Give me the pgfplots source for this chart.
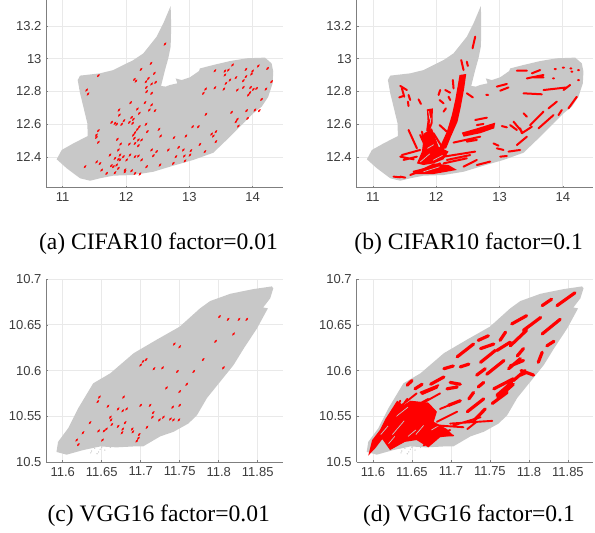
\documentclass[border=0pt]{standalone}
\usepackage{pgfplots}
\pgfplotsset{compat=1.18}
\usepackage{fontspec}
\setmainfont{Liberation Sans}
\newfontfamily\capfont{Liberation Serif}
\definecolor{lossgray}{HTML}{C8C8C8}
\definecolor{gridc}{HTML}{E9E9E9}
\definecolor{axc}{HTML}{7F7F7F}
\definecolor{labc}{HTML}{3C3C3C}
\pgfplotsset{
  panel/.style={
    scale only axis, anchor=south west,
    axis x line=bottom, axis y line=left,
    axis line style={-,axc,line width=0.9pt},
    grid=major, grid style={gridc,line width=0.8pt},
    tick align=inside, major tick length=2pt,
    tick style={axc,line width=0.6pt},
    tick label style={font=\fontsize{13}{13}\selectfont,text=labc},
    xticklabel style={yshift=-1.5pt},
    yticklabel style={xshift=-1.5pt},
    clip=true, unbounded coords=jump,
  },
  pcifar/.style={panel,width=236.5pt,height=187.7pt,
    xmin=10.744,xmax=14.48,ymin=12.2125,ymax=13.359,
    xtick={11,12,13,14},xticklabels={11,12,13,14},
    ytick={12.4,12.6,12.8,13,13.2},yticklabels={12.4,12.6,12.8,13,13.2}},
  pvgg/.style={panel,width=236.5pt,height=182.9pt,
    xmin=11.5792,xmax=11.8824,ymin=10.5,ymax=10.7,
    xtick={11.6,11.65,11.7,11.75,11.8,11.85},xticklabels={11.6,11.65,11.7,11.75,11.8,11.85},
    ytick={10.5,10.55,10.6,10.65,10.7},yticklabels={10.5,10.55,10.6,10.65,10.7}},
  region/.style={draw=none,fill=lossgray},
  smallmark/.style={red,only marks,mark=*,mark size=0.8pt,
    mark options={draw=red,fill=red,line width=0.2pt,rotate=50,xscale=2.2}},
  streak/.style={red,line width=#1,line cap=round},
  hole/.style={lossgray,line width=0.7pt},
  blob/.style={draw=none,fill=red},
  faint/.style={lossgray,only marks,mark=*,mark size=0.5pt,mark options={draw=lossgray,fill=lossgray,line width=0.1pt}},
}
\pgfplotstableread{
x y
12.705 13.322
12.711 13.237
12.711 13.155
12.705 13.074
12.668 13.003
12.616 12.931
12.553 12.834
12.626 12.83
12.695 12.84
12.811 12.85
12.784 12.88
12.879 12.87
13.011 12.887
13.153 12.925
13.168 12.941
13.379 12.962
13.642 12.986
13.905 13.003
14.195 13.007
14.3 12.972
14.326 12.921
14.316 12.85
14.247 12.768
14.142 12.707
14.011 12.667
13.8 12.585
13.589 12.504
13.379 12.426
13.063 12.382
12.747 12.347
12.432 12.31
12.116 12.29
11.8 12.286
11.589 12.27
11.432 12.255
11.274 12.27
11.063 12.331
10.905 12.386
10.984 12.443
11.168 12.483
11.395 12.528
11.389 12.606
11.326 12.707
11.274 12.789
11.237 12.87
11.274 12.897
11.589 12.911
11.8 12.931
12.116 12.992
12.274 13.033
12.484 13.135
12.589 13.216
}\cifarregion
\pgfplotstableread{
x y
11.868 10.692
11.87 10.69
11.866 10.679
11.857 10.669
11.863 10.668
11.849 10.646
11.832 10.624
11.819 10.606
11.802 10.588
11.785 10.57
11.772 10.551
11.761 10.542
11.742 10.533
11.725 10.528
11.703 10.517
11.691 10.517
11.669 10.516
11.648 10.517
11.626 10.513
11.605 10.508
11.592 10.511
11.594 10.522
11.607 10.537
11.62 10.559
11.639 10.586
11.661 10.597
11.691 10.619
11.721 10.634
11.75 10.648
11.776 10.668
11.789 10.676
11.815 10.684
11.844 10.689
}\vggregion
\pgfplotstableread{
x y
11.637 10.512
11.641 10.515
11.646 10.511
11.65 10.516
11.656 10.517
11.661 10.516
11.644 10.509
11.648 10.514
11.636 10.51
11.654 10.513
}\vggfaint
\begin{document}
\begin{tikzpicture}[x=1pt,y=1pt]
\path[use as bounding box] (0,0) rectangle (595,533);
% (a)
\begin{axis}[pcifar,at={(46.5pt,345.3pt)}]
\addplot[region] table {\cifarregion} -- cycle;
\addplot[smallmark] coordinates {
(12.616,13.09)(12.395,12.972)(12.237,12.935)(12.447,12.911)(11.563,12.897)(12.132,12.874)(12.158,12.864)(12.353,12.88)(12.468,12.856)(12.405,12.846)(12.316,12.86)(12.321,12.825)(12.326,12.799)(12.405,12.789)(11.379,12.809)(11.4,12.785)(12.074,12.732)(12.3,12.732)(12.405,12.718)(12.368,12.687)(12.458,12.683)(12.179,12.693)(11.889,12.687)(11.895,12.656)(12.21,12.667)(12.089,12.642)(12.116,12.63)(11.968,12.622)(11.774,12.612)(11.826,12.606)(11.853,12.6)(11.932,12.6)(12.053,12.612)(12.105,12.606)(12.316,12.6)(12.21,12.585)(12.179,12.569)(12.142,12.549)(12.116,12.534)(12.132,12.514)(12.337,12.555)(12.521,12.569)(11.563,12.561)(11.532,12.534)(11.532,12.52)(11.563,12.49)(11.863,12.508)(11.916,12.479)(12.195,12.504)(12.247,12.504)(12.142,12.483)(12.195,12.469)(12.053,12.479)(12.547,12.528)(12.758,12.518)(12.947,12.528)(13.053,12.585)(13.142,12.585)(13.263,12.661)(13.668,12.673)(13.758,12.63)(13.737,12.616)(13.774,12.589)(13.921,12.636)(13.905,12.683)(14.037,12.687)(14.105,12.683)(14.142,12.752)(14.211,12.815)(14.3,12.86)(14.237,12.941)(14.089,12.956)(14,12.925)(13.984,12.907)(13.895,12.935)(13.895,12.891)(13.853,12.866)(13.684,12.962)(13.616,12.931)(13.563,12.925)(13.563,12.901)(13.405,12.927)(13.642,12.87)(13.579,12.85)(13.737,12.885)(13.758,12.809)(13.547,12.815)(13.405,12.823)(13.258,12.815)(13.221,12.789)(13.853,12.825)(13.968,12.825)(14.011,12.813)(14.063,12.819)(13.932,12.779)(13.958,12.793)(13.421,12.555)(13.353,12.54)(13.379,12.528)(13.421,12.494)(13.168,12.477)(13.247,12.433)(13.026,12.439)(12.905,12.443)(12.832,12.459)(13.011,12.412)(12.921,12.406)(12.789,12.402)(12.668,12.443)(12.484,12.433)(12.432,12.408)(12.405,12.443)(12.747,12.361)(12.932,12.376)(12.537,12.351)(12.326,12.341)(12.247,12.382)(12.142,12.402)(12.063,12.412)(12.011,12.382)(11.905,12.412)(11.879,12.443)(11.747,12.412)(11.826,12.392)(11.905,12.382)(11.853,12.351)(11.8,12.341)(11.879,12.331)(11.984,12.321)(11.826,12.304)(11.695,12.3)(11.616,12.32)(11.537,12.37)(11.589,12.36)(11.353,12.341)(12.142,12.3)(12.221,12.296)(11.984,12.31)(12.089,12.316)(11.958,12.402)(11.879,12.386)(12.195,12.406)(11.768,12.347)
};
\end{axis}
% (b)
\begin{axis}[pcifar,at={(356.7pt,345.3pt)}]
\addplot[region] table {\cifarregion} -- cycle;
\addplot[blob] coordinates {(12.037,12.443)(12.168,12.555)(12.247,12.656)(12.3,12.748)(12.342,12.84)(12.368,12.901)(12.474,12.907)(12.442,12.819)(12.389,12.707)(12.337,12.616)(12.232,12.524)(12.158,12.453)} -- cycle;
\addplot[blob] coordinates {(11.695,12.361)(11.774,12.433)(11.811,12.545)(11.932,12.575)(12.037,12.463)(12.195,12.433)(12.116,12.386)(11.958,12.361)(11.8,12.351)} -- cycle;
\addplot[blob] coordinates {(11.616,12.296)(11.958,12.361)(12.195,12.351)(12.326,12.321)(11.958,12.296)} -- cycle;
\addplot[blob] coordinates {(11.853,12.691)(11.947,12.697)(11.942,12.606)(11.895,12.555)(11.842,12.561)(11.863,12.622)} -- cycle;
\addplot[blob] coordinates {(12.405,12.549)(12.642,12.575)(12.932,12.61)(12.916,12.575)(12.695,12.545)(12.432,12.524)} -- cycle;
\addplot[hole] coordinates {(11.88,12.68)(11.9,12.63)(nan,nan)(11.9,12.6)(11.92,12.64)(nan,nan)(11.75,12.37)(11.9,12.42)(nan,nan)(11.85,12.45)(11.98,12.48)(nan,nan)(11.8,12.31)(12.05,12.34)(nan,nan)(11.95,12.38)(12.1,12.41)};
\addplot[streak=2pt] coordinates {
(12.616,13.135)(12.574,13.064)(nan,nan)(12.395,12.992)(12.432,12.931)(nan,nan)(12.484,12.982)(12.5,12.956)(nan,nan)(12.263,12.87)(12.274,12.819)(nan,nan)(11.432,12.834)(11.537,12.809)(nan,nan)(11.416,12.764)(11.484,12.773)(nan,nan)(11.563,12.779)(11.589,12.748)(nan,nan)(11.553,12.738)(11.563,12.711)(nan,nan)(11.721,12.752)(11.758,12.724)(nan,nan)(11.458,12.819)(11.495,12.768)(nan,nan)(12.063,12.809)(12.037,12.779)(nan,nan)(12.142,12.809)(12.221,12.793)(nan,nan)(12.053,12.748)(12.116,12.728)(nan,nan)(12.195,12.768)(12.221,12.748)(nan,nan)(12.116,12.677)(12.153,12.697)(nan,nan)(12.484,12.789)(12.579,12.764)(nan,nan)(12.79,12.779)(12.82,12.779)(nan,nan)
(11.774,12.555)(11.826,12.483)(nan,nan)(11.563,12.565)(11.695,12.453)(nan,nan)(11.747,12.534)(11.879,12.422)(nan,nan)(11.458,12.412)(11.747,12.443)(nan,nan)(11.484,12.382)(11.695,12.402)(nan,nan)(11.432,12.402)(11.642,12.386)(nan,nan)
(11.879,12.545)(12.011,12.453)(nan,nan)(11.958,12.545)(12.089,12.463)(nan,nan)(12.053,12.595)(12.168,12.555)(nan,nan)(11.642,12.31)(11.958,12.341)(nan,nan)
(12.116,12.402)(12.616,12.433)(nan,nan)(12.168,12.382)(12.537,12.412)(nan,nan)(12.116,12.361)(12.484,12.392)(nan,nan)(11.589,12.29)(12.063,12.361)(nan,nan)(12.432,12.341)(12.642,12.382)(nan,nan)(12.642,12.351)(12.853,12.372)(nan,nan)(11.326,12.28)(11.432,12.276)(nan,nan)(11.432,12.28)(11.511,12.274)(nan,nan)
(12.274,12.488)(12.695,12.524)(nan,nan)(12.484,12.494)(12.642,12.504)(nan,nan)(12.616,12.626)(12.8,12.64)(nan,nan)(12.642,12.595)(12.747,12.602)(nan,nan)(12.905,12.483)(12.984,12.469)(nan,nan)(12.958,12.453)(13.063,12.443)(nan,nan)(13.011,12.402)(13.116,12.406)(nan,nan)(13.142,12.433)(13.326,12.443)(nan,nan)(13.274,12.473)(13.432,12.524)(nan,nan)(13.037,12.589)(13.116,12.581)(nan,nan)(13.168,12.595)(13.274,12.565)(nan,nan)(13.326,12.575)(13.353,12.545)(nan,nan)(13.221,12.616)(13.353,12.555)(nan,nan)(13.379,12.667)(13.432,12.646)(nan,nan)(13.353,12.545)(13.511,12.585)(nan,nan)(13.484,12.595)(13.695,12.677)(nan,nan)(13.616,12.575)(13.853,12.656)(nan,nan)(13.774,12.697)(13.905,12.738)(nan,nan)(13.932,12.656)(13.984,12.687)(nan,nan)(14.089,12.697)(14.221,12.768)(nan,nan)
(12.958,12.83)(13.116,12.846)(nan,nan)(13.011,12.805)(13.142,12.825)(nan,nan)(13.379,12.789)(13.668,12.783)(nan,nan)(13.695,12.809)(14.063,12.825)(nan,nan)(14.011,12.809)(14.116,12.84)(nan,nan)(13.274,12.927)(13.432,12.927)(nan,nan)(13.432,12.88)(13.695,12.901)(nan,nan)(13.511,12.911)(13.642,12.931)(nan,nan)(13.537,12.887)(13.695,12.887)(nan,nan)(13.87,12.937)(13.89,12.937)(nan,nan)(14.0,12.946)(14.02,12.946)(nan,nan)(14.12,12.941)(14.135,12.941)(nan,nan)(14.135,12.921)(14.15,12.921)(nan,nan)(14.24,12.931)(14.255,12.931)(nan,nan)(13.845,12.88)(13.86,12.88)(nan,nan)(14.24,12.87)(14.255,12.87)
};
\end{axis}
% (c)
\begin{axis}[pvgg,at={(46.5pt,71pt)}]
\addplot[region] table {\vggregion} -- cycle;
\addplot[faint] table {\vggfaint};
\addplot[smallmark] coordinates {
(11.801,10.659)(11.812,10.656)(11.826,10.656)(11.836,10.656)(11.819,10.64)(11.796,10.632)(11.743,10.629)(11.75,10.626)(11.78,10.612)(11.707,10.612)(11.703,10.61)(11.7,10.606)(11.717,10.602)(11.728,10.603)(11.747,10.599)(11.768,10.599)(11.806,10.603)(11.759,10.585)(11.75,10.577)(11.733,10.581)(11.678,10.571)(11.647,10.571)(11.645,10.566)(11.658,10.561)(11.671,10.558)(11.677,10.556)(11.682,10.558)(11.7,10.562)(11.712,10.562)(11.741,10.56)(11.75,10.562)(11.716,10.554)(11.715,10.549)(11.729,10.549)(11.724,10.546)(11.738,10.547)(11.742,10.546)(11.749,10.546)(11.661,10.549)(11.662,10.546)(11.663,10.541)(11.635,10.543)(11.68,10.543)(11.671,10.539)(11.677,10.536)(11.708,10.538)(11.689,10.536)(11.69,10.533)(11.646,10.534)(11.653,10.534)(11.656,10.536)(11.626,10.532)(11.676,10.532)(11.698,10.53)(11.697,10.526)(11.695,10.523)(11.651,10.524)(11.618,10.524)(11.62,10.519)
};
\end{axis}
% (d)
\begin{axis}[pvgg,at={(356.7pt,71pt)}]
\addplot[region] table {\vggregion} -- cycle;
\addplot[faint] table {\vggfaint};
\addplot[blob] coordinates {(11.594,10.507)(11.599,10.524)(11.609,10.535)(11.616,10.547)(11.631,10.567)(11.639,10.562)(11.648,10.567)(11.671,10.565)(11.682,10.555)(11.678,10.544)(11.695,10.536)(11.703,10.529)(11.686,10.527)(11.671,10.516)(11.656,10.524)(11.641,10.522)(11.622,10.513)(11.612,10.525)(11.603,10.515)} -- cycle;
\addplot[hole] coordinates {(11.61,10.53)(11.62,10.54)(nan,nan)(11.625,10.53)(11.64,10.545)(nan,nan)(11.63,10.55)(11.645,10.56)(nan,nan)(11.655,10.53)(11.665,10.54)(nan,nan)(11.675,10.535)(11.685,10.54)(nan,nan)(11.645,10.528)(11.655,10.535)(nan,nan)(11.62,10.52)(11.628,10.528)};
\addplot[streak=1.9pt] coordinates {
(11.62,10.54)(11.635,10.567)(nan,nan)(11.629,10.551)(11.644,10.569)(nan,nan)(11.631,10.558)(11.656,10.575)(nan,nan)(11.641,10.555)(11.671,10.569)(nan,nan)(11.665,10.518)(11.674,10.525)(nan,nan)(11.671,10.525)(11.699,10.535)(nan,nan)(11.678,10.529)(11.703,10.529)(nan,nan)(11.682,10.54)(11.716,10.538)(nan,nan)(11.682,10.544)(11.708,10.555)(nan,nan)(11.699,10.542)(11.753,10.545)(nan,nan)(11.703,10.54)(11.738,10.549)(nan,nan)(11.721,10.536)(11.733,10.544)(nan,nan)(11.686,10.558)(11.712,10.567)(nan,nan)(11.665,10.565)(11.686,10.575)(nan,nan)(11.661,10.576)(11.684,10.584)
};
\addplot[streak=3.2pt] coordinates {
(11.836,10.671)(11.859,10.685)(nan,nan)(11.817,10.671)(11.829,10.678)(nan,nan)(11.817,10.64)(11.84,10.656)(nan,nan)(11.823,10.627)(11.832,10.632)(nan,nan)(11.812,10.609)(11.817,10.62)(nan,nan)(11.793,10.644)(11.815,10.658)(nan,nan)(11.778,10.651)(11.797,10.66)(nan,nan)(11.776,10.627)(11.797,10.644)(nan,nan)(11.763,10.633)(11.77,10.642)(nan,nan)(11.785,10.616)(11.793,10.624)(nan,nan)(11.776,10.605)(11.793,10.611)(nan,nan)(11.78,10.589)(11.795,10.6)(nan,nan)(11.753,10.564)(11.772,10.576)(nan,nan)(11.755,10.58)(11.78,10.591)(nan,nan)(11.759,10.622)(11.776,10.631)(nan,nan)(11.738,10.609)(11.757,10.622)(nan,nan)(11.738,10.624)(11.755,10.629)(nan,nan)(11.735,10.633)(11.748,10.638)(nan,nan)(11.708,10.615)(11.729,10.629)(nan,nan)(11.712,10.604)(11.723,10.607)(nan,nan)(11.733,10.595)(11.744,10.602)(nan,nan)(11.746,10.596)(11.768,10.611)(nan,nan)(11.735,10.582)(11.742,10.587)(nan,nan)(11.723,10.569)(11.729,10.576)(nan,nan)(11.691,10.602)(11.703,10.605)(nan,nan)(11.644,10.584)(11.65,10.589)(nan,nan)(11.654,10.58)(11.663,10.585)(nan,nan)(11.674,10.585)(11.691,10.593)(nan,nan)(11.663,10.575)(11.682,10.582)(nan,nan)(11.695,10.58)(11.708,10.582)(nan,nan)(11.697,10.562)(11.712,10.567)(nan,nan)(11.721,10.555)(11.742,10.569)(nan,nan)(11.729,10.545)(11.744,10.558)(nan,nan)(11.76,10.57)(11.78,10.585)(nan,nan)(11.806,10.595)(11.79,10.6)(nan,nan)(11.759,10.573)(11.778,10.587)(nan,nan)(11.789,10.595)(11.797,10.598)(nan,nan)(11.774,10.602)(11.789,10.613)(nan,nan)(11.699,10.587)(11.712,10.585)
};
\end{axis}
% captions
\node[anchor=base,font=\capfont\fontsize{23.6}{24}\selectfont,text=black] at (158.5,283) {(a) CIFAR10 factor=0.01};
\node[anchor=base,font=\capfont\fontsize{23.6}{24}\selectfont,text=black] at (468.7,283) {(b) CIFAR10 factor=0.1};
\node[anchor=base,font=\capfont\fontsize{23.6}{24}\selectfont,text=black] at (158.7,11.3) {(c) VGG16 factor=0.01};
\node[anchor=base,font=\capfont\fontsize{23.6}{24}\selectfont,text=black] at (469,11.3) {(d) VGG16 factor=0.1};
\end{tikzpicture}
\end{document}
